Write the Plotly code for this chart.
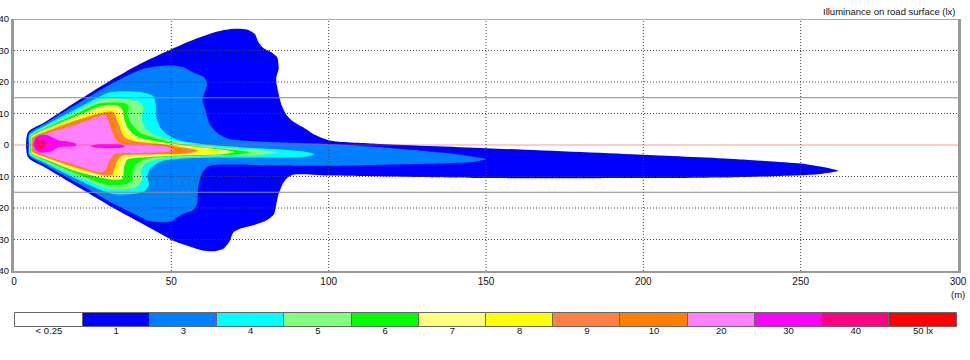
import plotly.graph_objects as go

# ---------------- data: isolux boundary polygons (x in m ahead, y in m lateral) ----------------
lvl_1 = [(4.4, -3.8), (4.4, 4.0), (10, 7.4), (20, 13.9), (30, 20.1), (40, 25.7), (50, 30.4), (58, 33.8),
         (65, 36.1), (69.8, 36.9), (74, 36.7), (76.5, 35.3), (77.6, 32.8), (79.2, 30.8), (81.9, 29.4),
         (83.6, 27.9), (84.1, 24.2), (83.3, 21.0), (84.0, 16.7), (85.1, 12.5), (86.8, 9.3), (88.8, 7.4),
         (91.9, 5.6), (95.1, 3.5), (100.4, 1.4), (115, 0.4), (150, -1.0), (200, -3.1), (230, -4.5),
         (250, -5.9), (257, -7.0), (262, -8.2), (257, -9.1), (250, -9.6), (230, -10.2), (200, -10.5),
         (150, -10.5), (100, -9.7), (89, -9.4), (86.8, -10.5), (85.3, -12.5), (84, -15.9), (83.3, -19.1),
         (82.6, -22.0), (80.3, -23.9), (76, -25.5), (71.8, -26.6), (69.7, -27.8), (68.5, -30.6),
         (66.5, -32.9), (63.5, -33.7), (60, -33.5), (57, -32.6), (53, -31.3), (50.3, -30.2),
         (42.4, -25.9), (31.8, -20.1), (21.2, -13.8), (10, -7.2)]

lvl_3 = [(4.7, -3.4), (4.6, 0.0), (4.7, 3.6), (10, 6.9), (20, 13.0), (30, 18.9), (40, 23.8), (45, 24.9),
         (50.3, 25.2), (54, 24.6), (57.1, 22.9), (60.5, 21.4), (61.4, 19.2), (60.4, 16.2), (59.9, 14.2),
         (60.8, 11.2), (61.5, 8.5), (62.5, 6.0), (65, 3.5), (68.6, 1.9), (79.2, 1.0), (100, 0.3),
         (120, -1.0), (138, -2.6), (146, -3.7), (150, -4.5), (146, -5.3), (138, -5.8), (120, -6.2),
         (100, -6.6), (80, -6.4), (66, -6.2), (62, -6.7), (60, -8.5), (58.9, -11.6), (58.4, -14.8),
         (58.3, -18.0), (57.2, -20.5), (53, -22.2), (49.8, -24.3), (46, -24.5), (42.4, -24.0),
         (40, -22.8), (30, -17.8), (20, -12.0), (10, -6.4)]

lvl_4 = [(5.0, -3.1), (4.8, 0.0), (5.0, 3.3), (10, 6.3), (20, 11.6), (30, 16.6), (33, 17.0), (40, 16.8),
         (44.3, 15.5), (45, 12.8), (45.3, 8.6), (46.6, 5.4), (48.7, 3.3), (52, 1.6), (60, 0.3),
         (72, -0.7), (86, -1.5), (93, -2.2), (95.5, -3.0), (92, -3.8), (80, -4.0), (65, -4.0),
         (53, -4.4), (46.6, -5.3), (43.4, -7.4), (42.4, -10.0), (42.9, -12.7), (41.3, -14.8),
         (38.5, -15.5), (31, -15.5), (20, -10.9), (10, -5.8)]

lvl_5 = [(5.2, -2.9), (5.0, 0.0), (5.2, 3.1), (10, 5.8), (20, 10.8), (28, 14.6), (31, 14.9), (37, 14.3),
         (40.2, 13.5), (41.1, 11.7), (40.6, 8.6), (41.8, 5.4), (44.4, 3.3), (48.7, 2.0), (55, 0.6),
         (66, -0.8), (79, -1.7), (83.5, -2.4), (79, -3.1), (65, -3.5), (52, -3.9), (44.5, -4.8),
         (41.3, -6.3), (40.3, -8.5), (40.8, -10.6), (39.7, -12.7), (38, -13.7), (30, -13.8),
         (20, -10.0), (10, -5.3)]

lvl_6 = [(5.4, -2.7), (5.2, 0.0), (5.4, 2.9), (10, 5.4), (20, 10.0), (27, 13.2), (35, 13.3), (36.5, 12.3),
         (36, 9.6), (37.6, 6.4), (40.2, 3.8), (44.4, 2.4), (52, 0.4), (62, -0.9), (71, -1.7),
         (75, -2.3), (71, -3.0), (58, -3.4), (48, -3.7), (41.3, -4.6), (38.7, -6.3), (37.6, -8.5),
         (37.6, -11.1), (36, -12.4), (29, -12.5), (20, -9.2), (10, -4.9)]

lvl_7 = [(5.6, -2.5), (5.4, 0.0), (5.6, 2.7), (10, 5.0), (20, 9.2), (27.5, 12.3), (33, 12.5),
         (34.5, 11.2), (35, 8.4), (36.2, 5.4), (38.5, 3.0), (41, 2.0), (49, 0.6), (60, -0.9),
         (67, -1.6), (70, -2.2), (66, -2.9), (52, -3.3), (37.5, -4.2), (36, -4.6), (35, -7.0),
         (34.5, -10.6), (31.5, -11.0), (20, -8.4), (10, -4.5)]

lvl_8 = [(5.7, -2.3), (5.5, 0.0), (5.7, 2.5), (10, 4.6), (20, 8.5), (28, 11.3), (32.5, 11.3),
         (34.2, 7.5), (35.8, 3.8), (38.5, 1.8), (47, 0.5), (57, -0.9), (63, -1.5), (66.5, -2.1),
         (62, -2.8), (50, -3.2), (36, -3.8), (34.5, -4.2), (33.4, -6.5), (33.0, -9.8), (30.5, -10.3),
         (20, -7.8), (10, -4.2)]

lvl_9 = [(5.8, -2.1), (5.6, 0.0), (5.8, 2.3), (10, 4.2), (20, 7.9), (29, 10.5), (31.5, 10.5),
         (33.3, 6.5), (35, 2.6), (38, 1.3), (46, 0.4), (54, -0.8), (58.5, -1.8), (54, -2.8),
         (44, -3.0), (35.5, -3.2), (34, -3.6), (32.5, -5.8), (31.2, -9.4), (29.5, -9.8),
         (20, -7.3), (10, -3.9)]

lvl_10 = [(5.9, -1.9), (5.7, 0.0), (5.9, 2.1), (10, 3.9), (20, 7.3), (28.5, 10.0), (30.3, 10.1),
          (32, 6.0), (33.5, 2.2), (36, 0.8), (45, 0.3), (51, -0.6), (55, -1.7), (51, -2.6),
          (42, -2.8), (34.5, -2.8), (32.8, -3.3), (31.3, -5.5), (30, -8.9), (28.5, -9.3),
          (20, -6.9), (10, -3.7)]

lvl_20 = [(6.4, -1.7), (5.9, 0.0), (6.4, 2.0), (10, 3.6), (20, 6.7), (27.5, 9.3), (29.2, 9.4),
          (30.7, 5.6), (32.3, 1.9), (34, 0.5), (42, 0.2), (48, -0.4), (51, -1.6), (48, -2.3),
          (40, -2.5), (33, -2.5), (31.8, -3.0), (30.2, -5.2), (29, -8.2), (27, -8.7), (20, -6.5),
          (10, -3.4)]

lvl_30_spot = [(6.1, 0.0), (6.8, 2.3), (8.5, 3.2), (10.8, 3.1), (12.5, 2.3), (14, 1.5), (17, 1.1),
               (19.7, 0.4), (19.7, -0.2), (17, -0.5), (14, -0.8), (12.3, -1.8), (10.5, -2.3),
               (8.3, -2.4), (6.8, -1.7)]
lvl_30_streak = [(24.3, -0.4), (26, 0.1), (30, 0.2), (34, 0.1), (35.3, -0.4), (34, -0.9), (30, -1.0),
                 (26, -0.9)]

lvl_40 = [(6.6, 0.2), (7.2, 1.6), (8.5, 2.0), (9.8, 1.4), (10.4, 0.2), (9.8, -0.9), (8.5, -1.4),
          (7.2, -1.1)]

legend_labels = ["< 0.25", "1", "3", "4", "5", "6", "7", "8", "9", "10", "20", "30", "40", "50 lx"]
legend_colors = ["#FFFFFF", "#0000FF", "#0080FF", "#00FFFF", "#80FF80", "#00FF00", "#FFFF80",
                 "#FFFF00", "#FF8040", "#FF8000", "#FF80FF", "#FF00FF", "#FF0080", "#FF0000"]

x_ticks = [0, 50, 100, 150, 200, 250, 300]
y_ticks = [-40, -30, -20, -10, 0, 10, 20, 30, 40]
y_tick_text = ["40", "30", "20", "10", "0", "10", "20", "30", "40"]
x_grid = [50, 100, 150, 200, 250]
y_grid = [-30, -20, -10, 10, 20, 30]
lane_lines = [-15, 15]

# ---------------- figure ----------------
FONT = "Liberation Sans, Arial, sans-serif"
fig = go.Figure()

regions = [
    (lvl_1, "#0000FF"), (lvl_3, "#0080FF"), (lvl_4, "#00FFFF"), (lvl_5, "#80FF80"),
    (lvl_6, "#00FF00"), (lvl_7, "#FFFF80"), (lvl_8, "#FFFF00"), (lvl_9, "#FF8040"),
    (lvl_10, "#FF8000"), (lvl_20, "#FF80FF"), (lvl_30_spot, "#FF00FF"),
    (lvl_30_streak, "#FF00FF"), (lvl_40, "#FF0080"),
]
for pts, col in regions:
    xs = [p[0] for p in pts] + [pts[0][0]]
    ys = [p[1] for p in pts] + [pts[0][1]]
    fig.add_trace(go.Scatter(
        x=xs, y=ys, mode="lines", fill="toself", fillcolor=col,
        line=dict(width=0, shape="spline", smoothing=0.7, color=col),
        hoverinfo="skip", showlegend=False, xaxis="x", yaxis="y"))

# legend strip
n_leg = len(legend_labels)
fig.add_trace(go.Bar(
    x=list(range(n_leg)), y=[1] * n_leg, width=1,
    marker=dict(color=legend_colors, line=dict(color="#666666", width=1)),
    cliponaxis=False, hoverinfo="skip", showlegend=False, xaxis="x2", yaxis="y2"))

DOT = "1px,2px"
shapes = []
for gx in x_grid:
    shapes.append(dict(type="line", xref="x", yref="y", x0=gx, x1=gx, y0=-40, y1=40, layer="above",
                       line=dict(color="#444444", width=1, dash=DOT)))
for gy in y_grid:
    shapes.append(dict(type="line", xref="x", yref="y", x0=0, x1=300, y0=gy, y1=gy, layer="above",
                       line=dict(color="#444444", width=1, dash=DOT)))
for ly in lane_lines:
    shapes.append(dict(type="line", xref="x", yref="y", x0=0, x1=300, y0=ly, y1=ly, layer="above",
                       line=dict(color="#8a8a8a", width=1)))
shapes.append(dict(type="line", xref="x", yref="y", x0=0, x1=300, y0=0, y1=0, layer="above",
                   line=dict(color="rgba(255,60,60,0.35)", width=1.5)))
shapes.append(dict(type="line", xref="x", yref="y", x0=0, x1=300, y0=40, y1=40, layer="above",
                   line=dict(color="#555555", width=1)))

H_PLOT = 309  # 360 - t - b
main_bottom = (328 - 271) / H_PLOT
fig.update_layout(
    width=970, height=360,
    margin=dict(l=14, r=12, t=19, b=32),
    paper_bgcolor="white", plot_bgcolor="white",
    font=dict(family=FONT, size=10, color="#111111"),
    bargap=0,
    shapes=shapes,
    xaxis=dict(domain=[0, 1], range=[0, 300], anchor="y", tickvals=x_ticks,
               showgrid=False, zeroline=False, showline=True, linecolor="#999999", linewidth=2,
               ticks="", tickfont=dict(size=10), automargin=False),
    yaxis=dict(domain=[main_bottom, 1], range=[-40, 40], anchor="x", tickvals=y_ticks,
               ticktext=y_tick_text, showgrid=False, zeroline=False, showline=True,
               linecolor="#999999", linewidth=3, mirror=True, ticks="",
               tickfont=dict(size=9.5), automargin=False),
    xaxis2=dict(domain=[0, 1], range=[-0.52, n_leg - 0.48], anchor="y2",
                tickvals=list(range(n_leg)), ticktext=legend_labels,
                showgrid=False, zeroline=False, showline=False, ticks="",
                ticklabelstandoff=-4,
                tickfont=dict(size=9.5), automargin=False),
    yaxis2=dict(domain=[0.0006, 16 / H_PLOT], range=[-0.06, 1.06], anchor="x2", visible=False,
                fixedrange=True),
    annotations=[
        dict(text="Illuminance on road surface (lx)", xref="paper", yref="paper", x=1, y=1,
             xanchor="right", yanchor="bottom", yshift=0, showarrow=False,
             font=dict(size=9.5, color="#111111")),
        dict(text="(m)", xref="x", yref="paper", x=300, y=(328 - 294) / H_PLOT,
             xanchor="center", yanchor="middle", showarrow=False,
             font=dict(size=9.5, color="#111111")),
    ],
)

fig.write_html("out.html", config={"displayModeBar": False},
               post_script="document.body.style.margin='0px';")
